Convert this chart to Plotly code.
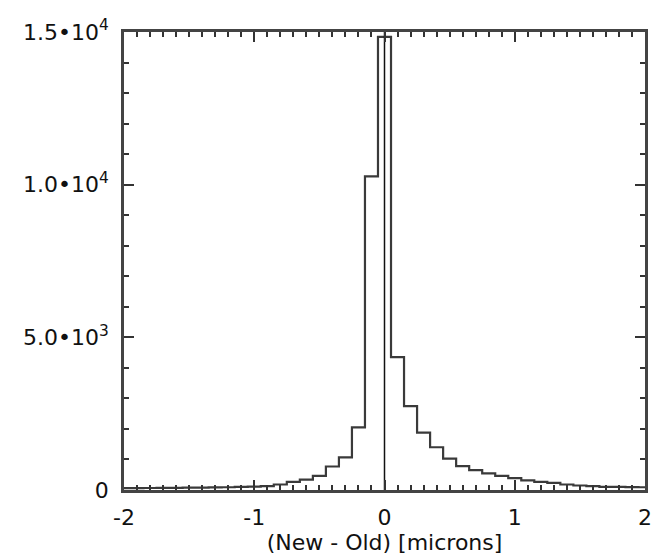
import plotly.graph_objects as go

# bin centres (microns) and counts
centers = [round(-2.0 + 0.1 * i, 1) for i in range(41)]
counts = [60, 62, 65, 68, 70, 75, 80, 85, 90, 100,
          110, 126, 180, 263, 337, 463, 770, 1070, 2050, 10270,
          14840,
          4350, 2750, 1880, 1400, 1030, 780, 650, 547, 463, 390,
          316, 263, 232, 180, 147, 126, 105, 100, 95, 90]

x_tickvals = [-2, -1, 0, 1, 2]
x_ticktext = ["-2", "-1", "0", "1", "2"]
y_tickvals = [0, 5000, 10000, 15000]
y_ticktext = ["0", "5.0•10<sup>3</sup>", "1.0•10<sup>4</sup>", "1.5•10<sup>4</sup>"]

fig = go.Figure()
fig.add_trace(go.Scatter(x=centers, y=counts, mode="lines",
                         line=dict(shape="hvh", color="#3a3a3a", width=2.2),
                         showlegend=False, hoverinfo="skip", cliponaxis=True))
fig.add_trace(go.Scatter(x=[0, 0], y=[0, 15000], mode="lines",
                         line=dict(color="#111111", width=1.5),
                         showlegend=False, hoverinfo="skip"))

font = dict(family="DejaVu Sans", size=22, color="#111111")
axis_common = dict(showgrid=False, zeroline=False, showline=True, linecolor="#444444",
                   linewidth=2.5, mirror="allticks", ticks="inside", tickcolor="#333333",
                   tickwidth=1.5, ticklen=10, tickfont=font, ticklabeloverflow="allow")

fig.update_xaxes(range=[-2, 2], tickvals=x_tickvals, ticktext=x_ticktext,
                 minor=dict(dtick=0.1, ticks="inside", ticklen=5, tickcolor="#333333", tickwidth=1.5),
                 ticklabelstandoff=6,
                 title=dict(text="(New - Old) [microns]", font=font, standoff=2),
                 **axis_common)
fig.update_yaxes(range=[0, 15000], tickvals=y_tickvals, ticktext=y_ticktext,
                 minor=dict(dtick=1000, ticks="inside", ticklen=5, tickcolor="#333333", tickwidth=1.5),
                 ticklabelstandoff=8,
                 **axis_common)

# the page body adds an 8 px margin, so the figure is sized/offset to compensate
fig.update_layout(width=652, height=548, margin=dict(l=116, r=8, t=10, b=62),
                  plot_bgcolor="white", paper_bgcolor="white", font=font)
fig.write_html("out.html")
